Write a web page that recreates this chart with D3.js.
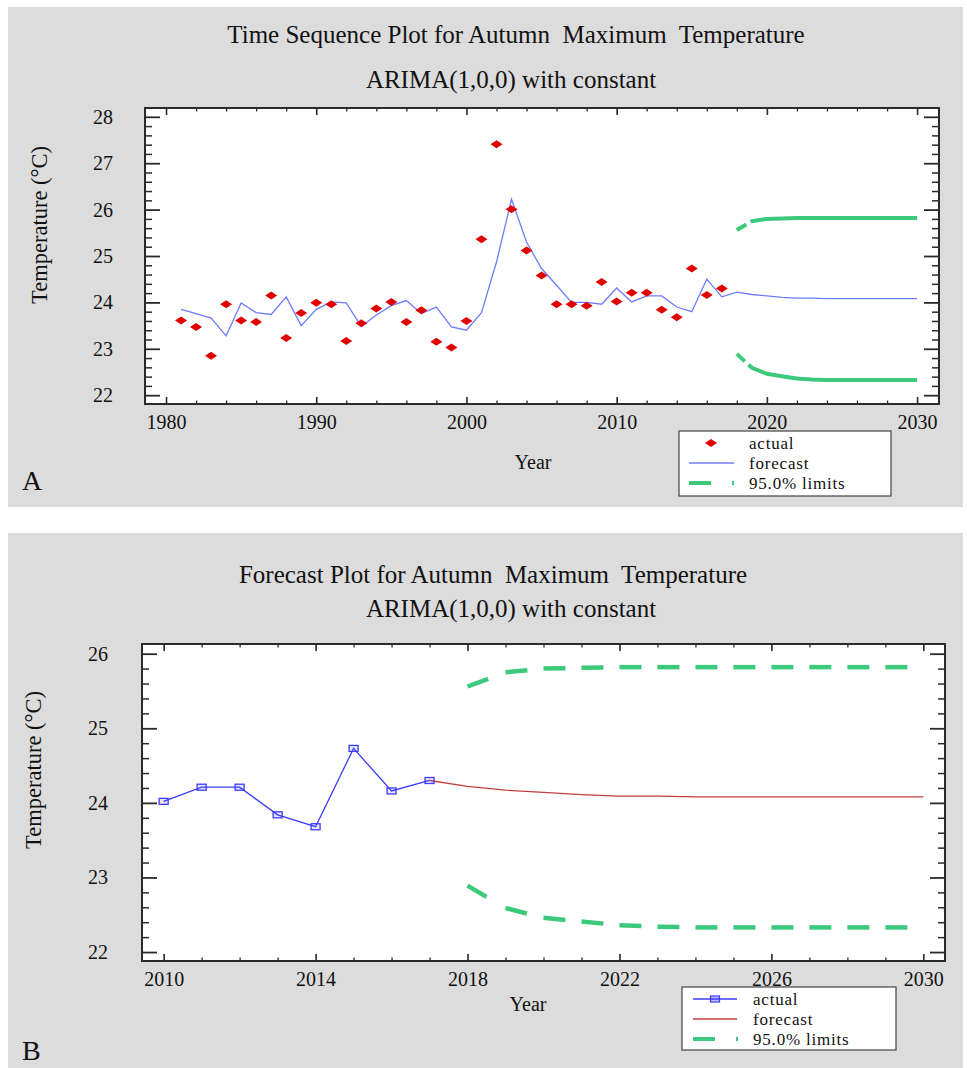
<!DOCTYPE html>
<html>
<head>
<meta charset="utf-8">
<script src="https://cdn.jsdelivr.net/npm/d3@7"></script>
<style>
  html, body { margin: 0; padding: 0; background: #ffffff; }
  svg { display: block; }
  text { font-family: "Liberation Serif", "Times New Roman", serif; fill: #111; }
</style>
</head>
<body>
<svg id="chart" width="967" height="1068"></svg>
<script>
// ---- data -------------------------------------------------------------
const actualYears = [1981, 1982, 1983, 1984, 1985, 1986, 1987, 1988, 1989, 1990,
  1991, 1992, 1993, 1994, 1995, 1996, 1997, 1998, 1999, 2000,
  2001, 2002, 2003, 2004, 2005, 2006, 2007, 2008, 2009, 2010,
  2011, 2012, 2013, 2014, 2015, 2016, 2017];
const actualTemp = [23.61, 23.47, 22.85, 23.96, 23.61, 23.58, 24.15, 23.23, 23.77, 23.99,
  23.96, 23.17, 23.55, 23.87, 24.01, 23.58, 23.83, 23.15, 23.03, 23.60,
  25.36, 27.41, 26.01, 25.12, 24.58, 23.96, 23.96, 23.93, 24.44, 24.02,
  24.21, 24.21, 23.84, 23.68, 24.73, 24.16, 24.30];
// one-step-ahead fitted values of the ARIMA(1,0,0) model
const fittedTemp = [23.85, 23.76, 23.66, 23.28, 23.99, 23.78, 23.74, 24.12, 23.50, 23.85,
  24.01, 23.99, 23.48, 23.73, 23.93, 24.04, 23.76, 23.90, 23.47, 23.40,
  23.78, 24.87, 26.22, 25.30, 24.73, 24.37, 24.00, 24.00, 23.96, 24.31,
  24.01, 24.14, 24.14, 23.90, 23.80, 24.50, 24.12];
const forecastYears = [2018, 2019, 2020, 2021, 2022, 2023, 2024, 2025, 2026, 2027, 2028, 2029, 2030];
const forecastTemp = [24.22, 24.17, 24.14, 24.11, 24.09, 24.09, 24.08, 24.08, 24.08, 24.08, 24.08, 24.08, 24.08];
const upperLimit = [25.56, 25.75, 25.80, 25.81, 25.82, 25.82, 25.82, 25.82, 25.82, 25.82, 25.82, 25.82, 25.82];
const lowerLimit = [22.89, 22.59, 22.46, 22.41, 22.36, 22.34, 22.33, 22.33, 22.33, 22.33, 22.33, 22.33, 22.33];

const topXTicks = [1980, 1990, 2000, 2010, 2020, 2030];
const topYTicks = [22, 23, 24, 25, 26, 27, 28];
const bottomXTicks = [2010, 2014, 2018, 2022, 2026, 2030];
const bottomYTicks = [22, 23, 24, 25, 26];
const bottomFirstYear = 2010;

const legendLabels = ["actual", "forecast", "95.0% limits"];

// ---- styles -----------------------------------------------------------
const FONT = '"Liberation Serif", "Times New Roman", serif';
const GREEN = "#3dc97b";
const RED = "#e00000";
const TOP_BLUE = "#6e7cff";
const BLUE = "#3c3cff";
const DARK_RED = "#c04040";
const FRAME = "#2a2a2a";

const svg = d3.select("#chart");

// panel backgrounds
svg.append("rect").attr("x", 8).attr("y", 7).attr("width", 955).attr("height", 500).attr("fill", "#dcdcdc");
svg.append("rect").attr("x", 8).attr("y", 533).attr("width", 955).attr("height", 535).attr("fill", "#dcdcdc");

function styleAxis(g, strokeW) {
  g.select(".domain").remove();
  g.attr("font-family", FONT).attr("font-size", 20);
  g.selectAll(".tick line").attr("stroke", FRAME).attr("stroke-width", strokeW);
  g.selectAll(".tick text").attr("fill", "#111");
}

function drawFrame(cfg) {
  const { x, y, box } = cfg;
  const plot = svg.append("g");
  plot.append("rect")
    .attr("x", box.left).attr("y", box.top)
    .attr("width", box.right - box.left).attr("height", box.bottom - box.top)
    .attr("fill", "#ffffff");

  const axes = svg.append("g");
  // x axis: bottom with labels, top mirrored
  const xb = axes.append("g").attr("transform", `translate(0,${box.bottom})`)
    .call(d3.axisBottom(x).tickValues(cfg.xMajor).tickFormat(d3.format("d"))
      .tickSizeInner(-7).tickSizeOuter(0).tickPadding(11));
  styleAxis(xb, 1.6);
  const xbm = axes.append("g").attr("transform", `translate(0,${box.bottom})`)
    .call(d3.axisBottom(x).tickValues(cfg.xMinor).tickFormat("").tickSizeInner(-3.5).tickSizeOuter(0));
  styleAxis(xbm, 1.3);
  const xt = axes.append("g").attr("transform", `translate(0,${box.top})`)
    .call(d3.axisTop(x).tickValues(cfg.xMajor).tickFormat("").tickSizeInner(-7).tickSizeOuter(0));
  styleAxis(xt, 1.6);
  const xtm = axes.append("g").attr("transform", `translate(0,${box.top})`)
    .call(d3.axisTop(x).tickValues(cfg.xMinor).tickFormat("").tickSizeInner(-3.5).tickSizeOuter(0));
  styleAxis(xtm, 1.3);

  // y axis: left with labels, right mirrored
  const yl = axes.append("g").attr("transform", `translate(${box.left},0)`)
    .call(d3.axisLeft(y).tickValues(cfg.yMajor).tickFormat(d3.format("d"))
      .tickSizeInner(-15).tickSizeOuter(0).tickPadding(cfg.yPad));
  styleAxis(yl, 1.8);
  const ylm = axes.append("g").attr("transform", `translate(${box.left},0)`)
    .call(d3.axisLeft(y).tickValues(cfg.yMinor).tickFormat("").tickSizeInner(-7).tickSizeOuter(0));
  styleAxis(ylm, 1.5);
  const yr = axes.append("g").attr("transform", `translate(${box.right},0)`)
    .call(d3.axisRight(y).tickValues(cfg.yMajor).tickFormat("").tickSizeInner(-15).tickSizeOuter(0));
  styleAxis(yr, 1.8);
  const yrm = axes.append("g").attr("transform", `translate(${box.right},0)`)
    .call(d3.axisRight(y).tickValues(cfg.yMinor).tickFormat("").tickSizeInner(-7).tickSizeOuter(0));
  styleAxis(yrm, 1.5);

  axes.append("rect")
    .attr("x", box.left).attr("y", box.top)
    .attr("width", box.right - box.left).attr("height", box.bottom - box.top)
    .attr("fill", "none").attr("stroke", FRAME).attr("stroke-width", 2);

  return plot;
}

function drawTitles(t1, t1x, t1y, t2x, t2y) {
  svg.append("text").attr("x", t1x).attr("y", t1y).attr("text-anchor", "middle")
    .attr("font-size", 25).style("white-space", "pre").text(t1);
  svg.append("text").attr("x", t2x).attr("y", t2y).attr("text-anchor", "middle")
    .attr("font-size", 25).text("ARIMA(1,0,0) with constant");
}

function yLabel(cx, cy) {
  svg.append("text")
    .attr("transform", `translate(${cx},${cy}) rotate(-90)`)
    .attr("text-anchor", "middle").attr("dominant-baseline", "central")
    .attr("font-size", 22.5)
    .text("Temperature (°C)");
}

function diamond(sel, cx, cy, w, h) {
  sel.append("path")
    .attr("d", `M${cx - w / 2},${cy}L${cx},${cy - h / 2}L${cx + w / 2},${cy}L${cx},${cy + h / 2}Z`)
    .attr("fill", RED);
}

// ======================= Panel A ========================================
(function () {
  const box = { left: 145, right: 939, top: 108, bottom: 404 };
  const x = d3.scaleLinear().domain([1978.6, 2031.46]).range([box.left, box.right]);
  const y = d3.scaleLinear().domain([21.81, 28.19]).range([box.bottom, box.top]);

  drawTitles("Time Sequence Plot for Autumn  Maximum  Temperature", 516, 43, 511, 88);

  const plot = drawFrame({
    x, y, box,
    xMajor: topXTicks,
    xMinor: d3.range(topXTicks[0], topXTicks[topXTicks.length - 1] + 1, 2).filter(v => !topXTicks.includes(v)),
    yMajor: topYTicks,
    yMinor: d3.range(0, (topYTicks[topYTicks.length - 1] - topYTicks[0]) * 5 + 1).map(i => topYTicks[0] + i * 0.2).filter(v => Math.abs(v - Math.round(v)) > 1e-6),
    yPad: 32
  });

  const line = d3.line().x(d => x(d[0])).y(d => y(d[1]));

  // confidence limits
  const upper = forecastYears.map((yr, i) => [yr, upperLimit[i]]);
  const lower = forecastYears.map((yr, i) => [yr, lowerLimit[i]]);
  [upper, lower].forEach(pts => {
    plot.append("path").attr("d", line(pts))
      .attr("fill", "none").attr("stroke", GREEN).attr("stroke-width", 4)
      .attr("stroke-dasharray", "11,5,3000");
  });

  // fitted + forecast line
  const fc = actualYears.map((yr, i) => [yr, fittedTemp[i]])
    .concat(forecastYears.map((yr, i) => [yr, forecastTemp[i]]));
  plot.append("path").attr("d", line(fc))
    .attr("fill", "none").attr("stroke", TOP_BLUE).attr("stroke-width", 1.3);

  // observations
  actualYears.forEach((yr, i) => diamond(plot, x(yr), y(actualTemp[i]), 12, 8));

  yLabel(39, 225);
  svg.append("text").attr("x", 533).attr("y", 469).attr("text-anchor", "middle")
    .attr("font-size", 20).text("Year");
  svg.append("text").attr("x", 22).attr("y", 490).attr("font-size", 28).text("A");

  // legend
  const lg = svg.append("g");
  lg.append("rect").attr("x", 679).attr("y", 431).attr("width", 212).attr("height", 65)
    .attr("fill", "#ffffff").attr("stroke", "#444").attr("stroke-width", 1.2);
  const rows = [443, 463, 483];
  diamond(lg, 711, rows[0], 12, 8);
  lg.append("line").attr("x1", 689).attr("x2", 734).attr("y1", rows[1]).attr("y2", rows[1])
    .attr("stroke", TOP_BLUE).attr("stroke-width", 1.5);
  lg.append("line").attr("x1", 689).attr("x2", 735).attr("y1", rows[2]).attr("y2", rows[2])
    .attr("stroke", GREEN).attr("stroke-width", 4).attr("stroke-dasharray", "22,21,2,100");
  legendLabels.forEach((t, i) => {
    lg.append("text").attr("x", 749).attr("y", rows[i]).attr("dominant-baseline", "central")
      .attr("font-size", 17).attr("letter-spacing", 0.8).text(t);
  });
})();

// ======================= Panel B ========================================
(function () {
  const box = { left: 142, right: 945, top: 644, bottom: 961 };
  const x = d3.scaleLinear().domain([2009.43, 2030.57]).range([box.left, box.right]);
  const y = d3.scaleLinear().domain([21.88, 26.13]).range([box.bottom, box.top]);

  drawTitles("Forecast Plot for Autumn  Maximum  Temperature", 493, 583, 511, 617);

  const plot = drawFrame({
    x, y, box,
    xMajor: bottomXTicks,
    xMinor: d3.range(bottomXTicks[0], bottomXTicks[bottomXTicks.length - 1] + 1, 1).filter(v => !bottomXTicks.includes(v)),
    yMajor: bottomYTicks,
    yMinor: d3.range(0, (bottomYTicks[bottomYTicks.length - 1] - bottomYTicks[0]) * 5 + 1).map(i => bottomYTicks[0] + i * 0.2).filter(v => Math.abs(v - Math.round(v)) > 1e-6),
    yPad: 34
  });

  const line = d3.line().x(d => x(d[0])).y(d => y(d[1]));

  // confidence limits: one dash starting at each forecast year
  [upperLimit, lowerLimit].forEach(lim => {
    for (let i = 0; i < forecastYears.length - 1; i++) {
      const seg = [[forecastYears[i], lim[i]], [forecastYears[i + 1], lim[i + 1]]];
      plot.append("path").attr("d", line(seg))
        .attr("fill", "none").attr("stroke", GREEN).attr("stroke-width", 4.5)
        .attr("stroke-dasharray", "22,200");
    }
  });

  const recent = actualYears.map((yr, i) => [yr, actualTemp[i]]).filter(d => d[0] >= bottomFirstYear);
  const last = recent[recent.length - 1];

  // forecast continues from the last observation
  const fc = [last].concat(forecastYears.map((yr, i) => [yr, forecastTemp[i]]));
  plot.append("path").attr("d", line(fc))
    .attr("fill", "none").attr("stroke", DARK_RED).attr("stroke-width", 1.3);

  plot.append("path").attr("d", line(recent))
    .attr("fill", "none").attr("stroke", BLUE).attr("stroke-width", 1.3);
  recent.forEach(d => {
    plot.append("rect").attr("x", x(d[0]) - 4.5).attr("y", y(d[1]) - 3)
      .attr("width", 9).attr("height", 6)
      .attr("fill", "rgba(60,60,255,0.12)").attr("stroke", BLUE).attr("stroke-width", 1.3);
  });

  yLabel(33, 770);
  svg.append("text").attr("x", 528).attr("y", 1011).attr("text-anchor", "middle")
    .attr("font-size", 20).text("Year");
  svg.append("text").attr("x", 22).attr("y", 1060).attr("font-size", 28).text("B");

  // legend
  const lg = svg.append("g");
  lg.append("rect").attr("x", 682).attr("y", 987).attr("width", 214).attr("height", 63)
    .attr("fill", "#ffffff").attr("stroke", "#444").attr("stroke-width", 1.2);
  const rows = [999, 1019, 1039];
  lg.append("line").attr("x1", 693).attr("x2", 737).attr("y1", rows[0]).attr("y2", rows[0])
    .attr("stroke", BLUE).attr("stroke-width", 1.4);
  lg.append("rect").attr("x", 710.5).attr("y", rows[0] - 3).attr("width", 9).attr("height", 6)
    .attr("fill", "rgba(60,60,255,0.35)").attr("stroke", BLUE).attr("stroke-width", 1.2);
  lg.append("line").attr("x1", 693).attr("x2", 737).attr("y1", rows[1]).attr("y2", rows[1])
    .attr("stroke", DARK_RED).attr("stroke-width", 1.4);
  lg.append("line").attr("x1", 693).attr("x2", 738).attr("y1", rows[2]).attr("y2", rows[2])
    .attr("stroke", GREEN).attr("stroke-width", 4).attr("stroke-dasharray", "22,21,2,100");
  legendLabels.forEach((t, i) => {
    lg.append("text").attr("x", 753).attr("y", rows[i]).attr("dominant-baseline", "central")
      .attr("font-size", 17).attr("letter-spacing", 0.8).text(t);
  });
})();
</script>
</body>
</html>
